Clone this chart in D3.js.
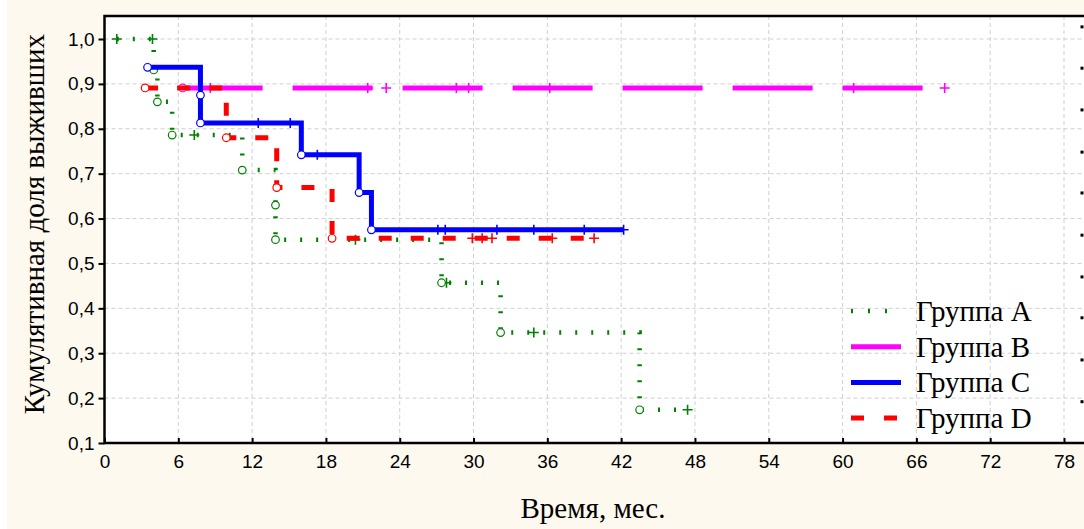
<!DOCTYPE html>
<html>
<head>
<meta charset="utf-8">
<script src="https://cdnjs.cloudflare.com/ajax/libs/d3/7.8.5/d3.min.js"></script>
<style>
  body { margin: 0; background: #fff; }
  svg { display: block; }
</style>
</head>
<body>
<div id="chart"></div>
<script>
// Data
// ------------------------------
var xTicks = [0, 6, 12, 18, 24, 30, 36, 42, 48, 54, 60, 66, 72, 78];
var yTicks = [0.1, 0.2, 0.3, 0.4, 0.5, 0.6, 0.7, 0.8, 0.9, 1.0];
// marks of the cut-off right axis
var rightTicks = [1.027, 0.935, 0.842, 0.748, 0.657, 0.563, 0.470, 0.379, 0.285, 0.192];
var groupNames = ['Группа A', 'Группа B', 'Группа C', 'Группа D'];

// Группа A
var aEventTimes = [4.0, 4.3, 5.5, 11.2, 13.9, 13.9, 27.4, 32.2, 43.5];
var aEventSurv  = [0.931, 0.860, 0.786, 0.708, 0.630, 0.553, 0.457, 0.346, 0.174];
var aCensored   = [1.0, 3.9, 7.3, 20.4, 27.8, 34.9, 47.4];

// Группа B
var bEventTimes = [6.35];
var bEventSurv  = [0.891];
var bCensored   = [8.6, 21.4, 22.9, 28.6, 29.6, 36.2, 60.9, 68.3];

// Группа C
var cEventTimes = [3.5, 7.8, 7.8, 16.0, 20.7, 21.7];
var cEventSurv  = [0.937, 0.875, 0.813, 0.742, 0.658, 0.575];
var cCensored   = [12.5, 15.1, 17.3, 27.1, 27.7, 31.9, 34.9, 39.0, 42.2];

// Группа D
var dEventTimes = [3.3, 9.9, 14.0, 18.5];
var dEventSurv  = [0.891, 0.780, 0.669, 0.556];
var dCensored   = [29.9, 30.7, 31.5, 36.4, 39.8];

// Setup
// ------------------------------
var width = 1084, height = 529;
var plotLeft = 104.5, plotTop = 16, plotBottom = 443;
var serif = '"Liberation Serif", "Times New Roman", serif';

var x = d3.scaleLinear().domain([0, 78]).range([plotLeft, 1064]);
var y = d3.scaleLinear().domain([0.1, 1.0]).range([plotBottom, 39]);

var svg = d3.select('#chart').append('svg')
    .attr('width', width)
    .attr('height', height);

svg.append('rect')
    .attr('x', 7).attr('y', 0)
    .attr('width', width - 7).attr('height', height)
    .style('fill', '#fdf9ef');

svg.append('rect')
    .attr('x', plotLeft).attr('y', plotTop)
    .attr('width', width - plotLeft + 20).attr('height', plotBottom - plotTop)
    .style('fill', '#fff');

// grid
svg.append('g').selectAll('line')
    .data(xTicks.slice(1))
    .enter().append('line')
    .attr('x1', function(d) { return x(d); })
    .attr('x2', function(d) { return x(d); })
    .attr('y1', plotTop).attr('y2', plotBottom)
    .style('stroke', '#cfcfcf').style('stroke-dasharray', '4,3');

svg.append('g').selectAll('line')
    .data(yTicks.slice(1))
    .enter().append('line')
    .attr('x1', plotLeft).attr('x2', width + 10)
    .attr('y1', function(d) { return y(d); })
    .attr('y2', function(d) { return y(d); })
    .style('stroke', '#cfcfcf').style('stroke-dasharray', '4,3');

// axes
var xAxis = svg.append('g')
    .attr('transform', 'translate(0,' + plotBottom + ')')
    .call(d3.axisBottom(x).tickValues(xTicks).tickSize(-5).tickPadding(12));

var yAxis = svg.append('g')
    .attr('transform', 'translate(' + plotLeft + ',0)')
    .call(d3.axisLeft(y).tickValues(yTicks).tickSize(6).tickPadding(4)
      .tickFormat(function(d) { return d3.format('.1f')(d).replace('.', ','); }));

[xAxis, yAxis].forEach(function(ax) {
  ax.select('.domain').remove();
  ax.selectAll('line').style('stroke', '#000').style('stroke-width', 2);
  ax.selectAll('text')
      .style('font-family', '"Liberation Sans", Arial, sans-serif')
      .style('font-size', '19px')
      .style('fill', '#000');
});

svg.append('g').selectAll('rect')
    .data(rightTicks)
    .enter().append('rect')
    .attr('x', 1080.5)
    .attr('y', function(d) { return y(d) - 1.5; })
    .attr('width', 3).attr('height', 3)
    .style('fill', '#000');

// frame
svg.append('path')
    .attr('d', 'M' + (width + 10) + ',' + plotTop + 'H' + plotLeft + 'V' + plotBottom + 'H' + (width + 10))
    .style('fill', 'none')
    .style('stroke', '#000')
    .style('stroke-width', 2.5);

// Curves
// ------------------------------
function buildCurve(eventTimes, eventSurv, censored) {
  function survAt(t) {
    var s = 1;
    for (var i = 0; i < eventTimes.length; i++) {
      if (eventTimes[i] <= t) s = eventSurv[i];
    }
    return s;
  }
  var first = Math.min(eventTimes[0], censored[0]);
  var last = Math.max(eventTimes[eventTimes.length - 1], censored[censored.length - 1]);
  var pts = [[first, survAt(first)]];
  var prev = survAt(first);
  for (var i = 0; i < eventTimes.length; i++) {
    if (eventTimes[i] <= first) continue;
    pts.push([eventTimes[i], prev]);
    pts.push([eventTimes[i], eventSurv[i]]);
    prev = eventSurv[i];
  }
  pts.push([last, prev]);
  return {
    path: pts,
    events: eventTimes.map(function(t, i) { return [t, eventSurv[i]]; }),
    cens: censored.map(function(t) { return [t, survAt(t)]; })
  };
}

var groups = [
  { curve: buildCurve(aEventTimes, aEventSurv, aCensored), color: '#008000', width: 4.5, dash: '2,14' },
  { curve: buildCurve(bEventTimes, bEventSurv, bCensored), color: '#ff00ff', width: 5, dash: '80,30' },
  { curve: buildCurve(cEventTimes, cEventSurv, cCensored), color: '#0000ff', width: 5, dash: null },
  { curve: buildCurve(dEventTimes, dEventSurv, dCensored), color: '#ff0000', width: 5, dash: '13,19' }
];

var line = d3.line()
    .x(function(d) { return x(d[0]); })
    .y(function(d) { return y(d[1]); });

groups.forEach(function(g) {
  svg.append('path')
      .datum(g.curve.path)
      .attr('d', line)
      .style('fill', 'none')
      .style('stroke', g.color)
      .style('stroke-width', g.width)
      .style('stroke-dasharray', g.dash);

  svg.append('g').selectAll('path')
      .data(g.curve.cens)
      .enter().append('path')
      .attr('d', function(d) {
        var cx = x(d[0]), cy = y(d[1]);
        return 'M' + (cx - 5) + ',' + cy + 'H' + (cx + 5) + 'M' + cx + ',' + (cy - 5) + 'V' + (cy + 5);
      })
      .style('stroke', g.color)
      .style('stroke-width', 1.6);

  svg.append('g').selectAll('circle')
      .data(g.curve.events)
      .enter().append('circle')
      .attr('cx', function(d) { return x(d[0]); })
      .attr('cy', function(d) { return y(d[1]); })
      .attr('r', 3.8)
      .style('fill', '#fff')
      .style('stroke', g.color)
      .style('stroke-width', 1.2);
});

// Legend
// ------------------------------
var legend = svg.append('g').selectAll('g')
    .data(groups)
    .enter().append('g')
    .attr('transform', function(d, i) { return 'translate(850,' + (311 + i * 35.7) + ')'; });

legend.append('line')
    .attr('x1', 1).attr('x2', function(d, i) { return i === 0 ? 40 : 51; })
    .style('stroke', function(d) { return d.color; })
    .style('stroke-width', function(d) { return d.width; })
    .style('stroke-dasharray', function(d, i) { return i === 0 ? '2,15' : (i === 3 ? '13,20' : null); });

legend.append('text')
    .attr('x', 66).attr('y', 10)
    .text(function(d, i) { return groupNames[i]; })
    .style('font-family', serif)
    .style('font-size', '29px');

// Titles
svg.append('text')
    .attr('x', 593).attr('y', 518)
    .attr('text-anchor', 'middle')
    .text('Время, мес.')
    .style('font-family', serif)
    .style('font-size', '29px');

svg.append('text')
    .attr('transform', 'translate(44,224) rotate(-90)')
    .attr('text-anchor', 'middle')
    .text('Кумулятивная доля выживших')
    .style('font-family', serif)
    .style('font-size', '29px');
</script>
</body>
</html>
